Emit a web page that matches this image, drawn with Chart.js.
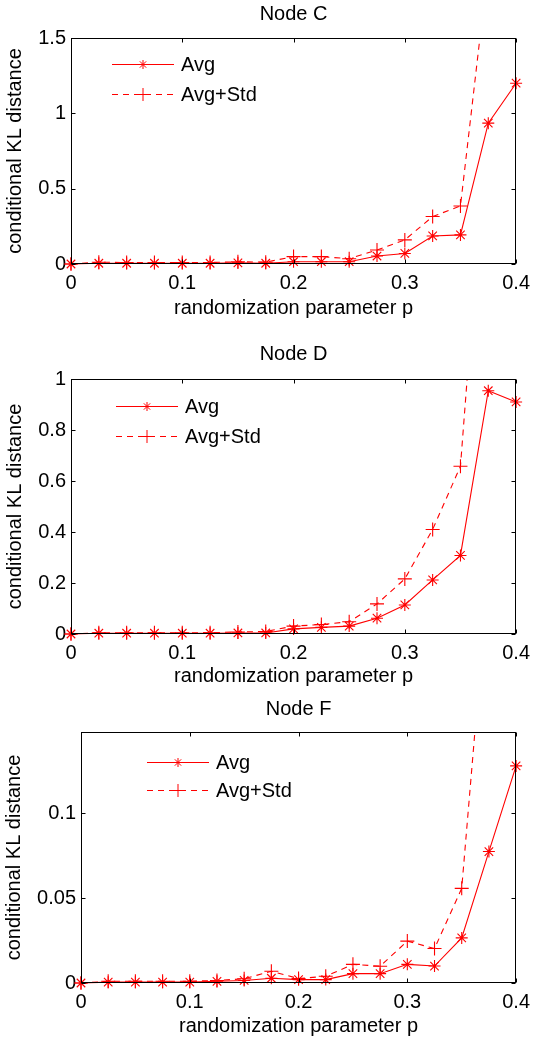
<!DOCTYPE html>
<html>
<head>
<meta charset="utf-8">
<script src="https://cdn.jsdelivr.net/npm/chart.js@4.4.0/dist/chart.umd.min.js"></script>
<style>
  html, body { margin: 0; padding: 0; background: #fff; overflow: hidden; }
  .panel { position: absolute; left: 0; width: 537px; }
</style>
</head>
<body>
<div class="panel" style="top:0;height:330px"><canvas id="chartC"></canvas></div>
<div class="panel" style="top:340px;height:350px"><canvas id="chartD"></canvas></div>
<div class="panel" style="top:690px;height:350px"><canvas id="chartF"></canvas></div>
<script>
// randomization parameter p (x values) and x tick labels
const pValues = [0, 0.025, 0.05, 0.075, 0.1, 0.125, 0.15, 0.175, 0.2, 0.225, 0.25, 0.275, 0.3, 0.325, 0.35, 0.375, 0.4];
const xTicks = [0, 0.1, 0.2, 0.3, 0.4];

// Node C
const nodeCAvg = [0, 0.005, 0.005, 0.005, 0.005, 0.005, 0.008, 0.005, 0.015, 0.015, 0.015, 0.053, 0.07, 0.186, 0.193, 0.935, 1.2];
const nodeCAvgStd = [0, 0.012, 0.01, 0.01, 0.01, 0.01, 0.015, 0.012, 0.049, 0.049, 0.035, 0.093, 0.16, 0.315, 0.385, 1.98, 2.4];
const nodeCTicks = [0, 0.5, 1, 1.5];

// Node D
const nodeDAvg = [0, 0.003, 0.003, 0.003, 0.003, 0.003, 0.004, 0.004, 0.02, 0.026, 0.031, 0.062, 0.114, 0.212, 0.308, 0.954, 0.91];
const nodeDAvgStd = [0, 0.005, 0.005, 0.005, 0.005, 0.005, 0.008, 0.01, 0.031, 0.037, 0.048, 0.118, 0.216, 0.41, 0.658, 2.08, 2.5];
const nodeDTicks = [0, 0.2, 0.4, 0.6, 0.8, 1];

// Node F
const nodeFAvg = [0, 0.0005, 0.0005, 0.0005, 0.0005, 0.001, 0.0015, 0.0028, 0.002, 0.002, 0.0055, 0.0055, 0.011, 0.010, 0.0266, 0.0775, 0.128];
const nodeFAvgStd = [0, 0.001, 0.001, 0.001, 0.001, 0.0015, 0.0025, 0.0069, 0.0026, 0.004, 0.011, 0.0099, 0.0247, 0.0203, 0.0558, 0.246, 0.3];
const nodeFTicks = [0, 0.05, 0.1];

const RED = '#ff0000';
const FONT = "'Liberation Sans', Arial, sans-serif";
const FS = 20;
const DASH = [6, 5];

// simple marker drawing for the legend
function marker(ctx, style, r, x, y) {
  ctx.beginPath();
  ctx.moveTo(x - r, y); ctx.lineTo(x + r, y);
  ctx.moveTo(x, y - r); ctx.lineTo(x, y + r);
  if (style === 'star') {
    const d = r * Math.SQRT1_2;
    ctx.moveTo(x - d, y - d); ctx.lineTo(x + d, y + d);
    ctx.moveTo(x - d, y + d); ctx.lineTo(x + d, y - d);
  }
  ctx.stroke();
}

// box round the axes, inward ticks and the legend
const framePlugin = {
  id: 'frame',
  afterDraw(chart, args, opts) {
    const { ctx, chartArea: a, scales: { x, y } } = chart;
    ctx.save();
    ctx.strokeStyle = '#000';
    ctx.lineWidth = 1;
    ctx.setLineDash([]);
    const L = Math.round(a.left) + 0.5, R = Math.round(a.right) - 0.5;
    const T = Math.round(a.top) + 0.5, B = Math.round(a.bottom) - 0.5;
    ctx.strokeRect(L, T, R - L, B - T);
    const tl = 4;
    ctx.beginPath();
    x.ticks.forEach(t => {
      const px = Math.round(x.getPixelForValue(t.value)) + 0.5;
      ctx.moveTo(px, B); ctx.lineTo(px, B - tl);
      ctx.moveTo(px, T); ctx.lineTo(px, T + tl);
    });
    y.ticks.forEach(t => {
      const py = Math.round(y.getPixelForValue(t.value)) + 0.5;
      ctx.moveTo(L, py); ctx.lineTo(L + tl, py);
      ctx.moveTo(R, py); ctx.lineTo(R - tl, py);
    });
    ctx.stroke();

    // legend
    const lg = opts.legend;
    ctx.font = FS + 'px ' + FONT;
    ctx.textBaseline = 'middle';
    ctx.textAlign = 'left';
    chart.data.datasets.forEach((ds, i) => {
      const ly = Math.round(a.top + lg.rows[i]) + 0.5;
      const x0 = a.left + lg.dx, x1 = x0 + 62;
      ctx.strokeStyle = ds.borderColor;
      ctx.lineWidth = 1;
      ctx.setLineDash(ds.borderDash || []);
      ctx.beginPath(); ctx.moveTo(x0, ly); ctx.lineTo(x1, ly); ctx.stroke();
      ctx.setLineDash([]);
      marker(ctx, ds.pointStyle, ds.pointStyle === 'star' ? 4.5 : 6.5, (x0 + x1) / 2, ly);
      ctx.fillStyle = '#000';
      ctx.fillText(ds.label, x1 + 7, ly + 1);
    });
    ctx.restore();
  }
};

function makeChart(p) {
  const pts = arr => pValues.map((v, i) => ({ x: v, y: arr[i] }));
  const clip = { left: 10, right: 10, top: 0, bottom: 10 };
  return new Chart(document.getElementById(p.id), {
    type: 'line',
    data: {
      datasets: [{
        label: 'Avg',
        data: pts(p.avg),
        borderColor: RED,
        backgroundColor: RED,
        borderWidth: 1.1,
        pointStyle: 'star',
        pointRadius: 6,
        pointBorderColor: RED,
        pointBorderWidth: 1.1,
        tension: 0,
        clip: clip
      }, {
        label: 'Avg+Std',
        data: pts(p.std),
        borderColor: RED,
        backgroundColor: RED,
        borderWidth: 1.1,
        borderDash: DASH,
        pointStyle: 'cross',
        pointRadius: 7,
        pointBorderColor: RED,
        pointBorderWidth: 1.1,
        tension: 0,
        clip: clip
      }]
    },
    options: {
      responsive: true,
      maintainAspectRatio: false,
      animation: false,
      events: [],
      layout: { padding: { left: 0, right: 537 - p.right, top: 0, bottom: 0 } },
      plugins: {
        legend: { display: false },
        tooltip: { enabled: false },
        title: {
          display: true,
          text: p.title,
          fullSize: false,
          color: '#000',
          font: { family: FONT, size: FS, weight: 'normal' },
          padding: { top: p.titlePad[0], bottom: p.titlePad[1] }
        },
        frame: { legend: p.legend }
      },
      scales: {
        x: {
          type: 'linear',
          min: 0,
          max: 0.4,
          afterBuildTicks: s => { s.ticks = xTicks.map(v => ({ value: v })); },
          afterFit: s => { s.height = s.chart.height - p.bottom; },
          grid: { display: false, drawTicks: false },
          border: { display: false },
          ticks: {
            padding: 7,
            color: '#000',
            maxRotation: 0,
            font: { family: FONT, size: FS },
            callback: v => String(v)
          },
          title: {
            display: true,
            text: 'randomization parameter p',
            color: '#000',
            font: { family: FONT, size: FS },
            padding: { top: 0, bottom: p.xTitlePad }
          }
        },
        y: {
          min: 0,
          max: p.yMax,
          afterBuildTicks: s => { s.ticks = p.yTicks.map(v => ({ value: v })); },
          afterFit: s => { s.width = p.left; },
          grid: { display: false, drawTicks: false },
          border: { display: false },
          ticks: {
            padding: 5,
            color: '#000',
            font: { family: FONT, size: FS },
            callback: v => String(v)
          },
          title: {
            display: true,
            text: 'conditional KL distance',
            color: '#000',
            font: { family: FONT, size: FS },
            padding: { top: p.yTitlePad, bottom: 0 }
          }
        }
      }
    },
    plugins: [framePlugin]
  });
}

makeChart({
  id: 'chartC', title: 'Node C', avg: nodeCAvg, std: nodeCAvgStd,
  yTicks: nodeCTicks, yMax: 1.5,
  left: 71, right: 523, bottom: 264,
  titlePad: [2, 12], xTitlePad: 10, yTitlePad: 3.4,
  legend: { dx: 41, rows: [25.5, 55.5] }
});
makeChart({
  id: 'chartD', title: 'Node D', avg: nodeDAvg, std: nodeDAvgStd,
  yTicks: nodeDTicks, yMax: 1,
  left: 71, right: 523, bottom: 294,
  titlePad: [2.3, 12.7], xTitlePad: 1.3, yTitlePad: 3.4,
  legend: { dx: 45, rows: [27, 56.7] }
});
makeChart({
  id: 'chartF', title: 'Node F', avg: nodeFAvg, std: nodeFAvgStd,
  yTicks: nodeFTicks, yMax: 0.148,
  left: 81, right: 523, bottom: 293,
  titlePad: [7.5, 10.5], xTitlePad: 1.3, yTitlePad: 2,
  legend: { dx: 66, rows: [29.7, 58] }
});
</script>
</body>
</html>
